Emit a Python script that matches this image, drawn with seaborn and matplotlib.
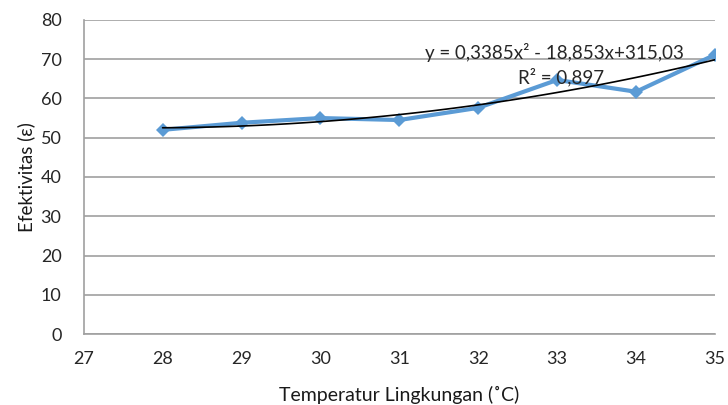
import numpy as np
import pandas as pd
import matplotlib.pyplot as plt
import seaborn as sns

suhu = [28, 29, 30, 31, 32, 33, 34, 35]
efektivitas = [52.0, 53.8, 55.0, 54.5, 57.6, 64.7, 61.7, 71.1]
koef = [0.3385, -18.853, 315.03]
persamaan = "y = 0,3385x² - 18,853x+315,03"
r2_teks = "R² = 0,897"

df = pd.DataFrame({"Suhu": suhu, "Efektivitas": efektivitas})

sns.set_style("white")
plt.rcParams['font.family'] = ['Lato', 'DejaVu Sans']

fig = plt.figure(figsize=(7.28, 4.05), dpi=100)
ax = fig.add_axes([0.115, 0.175, 0.867, 0.776])

sns.lineplot(data=df, x="Suhu", y="Efektivitas", ax=ax, color="#5B9BD5",
             linewidth=3, marker="D", markersize=7.5, markeredgewidth=0, zorder=3)

# trendline polinomial orde 2
xs = np.linspace(min(suhu), max(suhu), 100)
ax.plot(xs, np.polyval(koef, xs), color="black", linewidth=1.2, zorder=4)

ax.text(32.97, 71.8, persamaan, ha="center", va="center", fontsize=13.5, color="#262626", zorder=5)
ax.text(33.05, 65.4, r2_teks, ha="center", va="center", fontsize=13.5, color="#262626", zorder=5)

ax.set_xlim(27, 35)
ax.set_ylim(0, 80)
ax.set_xticks(range(27, 36))
ax.set_yticks(range(0, 81, 10))
ax.yaxis.grid(True, color="#a0a0a0", linewidth=1.2)
ax.set_axisbelow(True)
for s in ["top", "right"]:
    ax.spines[s].set_visible(False)
for s in ["left", "bottom"]:
    ax.spines[s].set_color("#a0a0a0")
    ax.spines[s].set_linewidth(1.2)
ax.tick_params(axis="both", length=0, labelsize=13, colors="#262626")
ax.tick_params(axis="x", pad=12)
ax.tick_params(axis="y", pad=16)

ax.set_xlabel("Temperatur Lingkungan (˚C)", fontsize=14, color="#1a1a1a", labelpad=14)
ax.set_ylabel("Efektivitas (ε)", fontsize=13.5, color="#1a1a1a", labelpad=4)

plt.savefig("out.png", dpi=100)
